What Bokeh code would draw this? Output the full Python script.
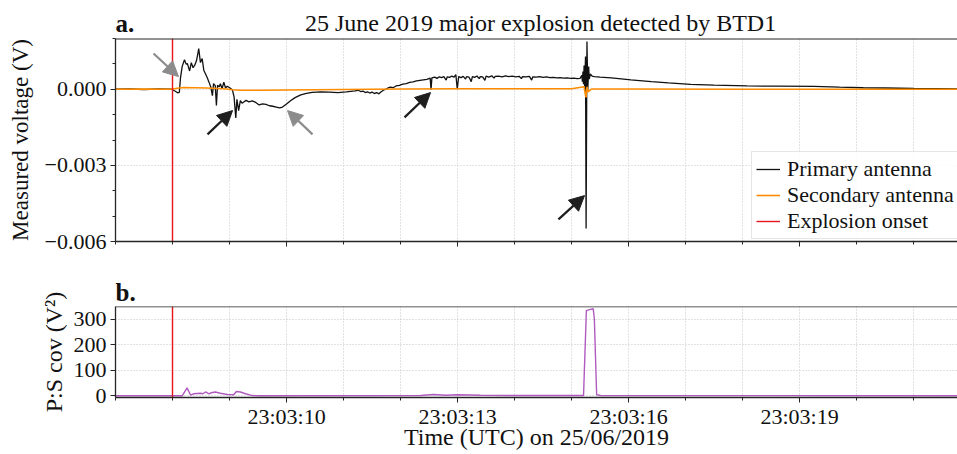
from datetime import datetime, timezone
from bokeh.plotting import figure
from bokeh.layouts import column
from bokeh.models import (Range1d, FixedTicker, DatetimeTickFormatter, CustomJSTickFormatter,
                          Span, Label, Legend, LegendItem, Arrow, NormalHead)
from bokeh.embed import file_html
from bokeh.resources import INLINE

# ---------------- data (seconds after 23:03:00 UTC, 25/06/2019) ----------------
primary_t = [7.00, 7.25, 7.50, 7.75, 7.98, 8.05, 8.09, 8.12, 8.14, 8.17, 8.21, 8.24, 8.26, 8.30, 8.33,
             8.36, 8.39, 8.42, 8.44, 8.46, 8.49, 8.52, 8.55, 8.58, 8.61, 8.64, 8.67, 8.70, 8.72, 8.75,
             8.77, 8.79, 8.82, 8.84, 8.87, 8.90, 8.93, 8.96, 8.99, 9.02, 9.05, 9.08, 9.11, 9.13, 9.16,
             9.19, 9.22, 9.25, 9.29, 9.34, 9.40, 9.46, 9.52, 9.58, 9.64, 9.70, 9.76, 9.82, 9.88, 9.93,
             10.00, 10.07, 10.15, 10.25, 10.35, 10.45, 10.60, 10.75, 10.90, 11.05, 11.20, 11.26, 11.30,
             11.34, 11.38, 11.42, 11.46, 11.50, 11.54, 11.58, 11.62, 11.66, 11.70, 11.74, 11.78, 11.82,
             11.87, 11.92, 11.98, 12.04, 12.10, 12.16, 12.22, 12.28, 12.34, 12.40, 12.46, 12.52, 12.535,
             12.55, 12.60, 12.64, 12.68, 12.72, 12.76, 12.80, 12.82, 12.86, 12.90, 12.94, 12.97, 12.995,
             13.02, 13.06, 13.10, 13.14, 13.16, 13.20, 13.24, 13.26, 13.30, 13.34, 13.38, 13.40, 13.44,
             13.48, 13.50, 13.55, 13.60, 13.64, 13.66, 13.72, 13.78, 13.84, 13.90, 13.96, 14.02, 14.08,
             14.12, 14.14, 14.20, 14.26, 14.30, 14.32, 14.38, 14.44, 14.50, 14.56, 14.62, 14.68, 14.74,
             14.80, 14.86, 14.92, 14.98, 15.04, 15.10, 15.15, 15.18, 15.19, 15.20, 15.21, 15.22, 15.23,
             15.245, 15.255, 15.27, 15.285, 15.30, 15.31, 15.33, 15.36, 15.40, 15.50, 15.70, 16.04,
             16.40, 16.70, 17.09, 17.50, 18.08, 18.60, 19.25, 19.70, 20.12, 20.50, 21.00, 21.77]
primary_v = [0.00000, 0.00001, -0.00001, 0.00001, 0.00000, -0.00008, -0.00014, -0.00012, 0.00045,
             0.00090, 0.00116, 0.00098, 0.00102, 0.00072, 0.00105, 0.00085, 0.00095, 0.00112, 0.00135,
             0.00160, 0.00105, 0.00121, 0.00074, 0.00060, 0.00045, 0.00028, 0.00010, -0.00025, 0.00022,
             0.00014, -0.00064, 0.00016, 0.00010, 0.00022, 0.00002, 0.00028, 0.00005, 0.00012, 0.00008,
             0.00003, -0.00002, -0.00030, -0.00113, -0.00040, -0.00084, -0.00045, -0.00055, -0.00050,
             -0.00044, -0.00050, -0.00046, -0.00052, -0.00062, -0.00058, -0.00060, -0.00065, -0.00067,
             -0.00070, -0.00073, -0.00070, -0.00058, -0.00045, -0.00033, -0.00022, -0.00016, -0.00012,
             -0.00010, -0.00011, -0.00013, -0.00010, -0.00006, -0.00004, -0.00009, -0.00007, -0.00013,
             -0.00010, -0.00015, -0.00011, -0.00017, -0.00013, -0.00018, -0.00010, -0.00004, 0.00000,
             0.00005, 0.00008, 0.00006, 0.00013, 0.00015, 0.00020, 0.00022, 0.00027, 0.00029, 0.00033,
             0.00035, 0.00037, 0.00039, 0.00044, -0.00002, 0.00045, 0.00048, 0.00043, 0.00049, 0.00046,
             0.00050, 0.00036, 0.00049, 0.00047, 0.00052, 0.00048, 0.00058, 0.00000, 0.00050, 0.00046,
             0.00051, 0.00040, 0.00050, 0.00048, 0.00030, 0.00050, 0.00047, 0.00052, 0.00042, 0.00050,
             0.00049, 0.00035, 0.00052, 0.00048, 0.00053, 0.00044, 0.00051, 0.00052, 0.00049, 0.00053,
             0.00050, 0.00052, 0.00049, 0.00051, 0.00042, 0.00050, 0.00049, 0.00051, 0.00036, 0.00049,
             0.00048, 0.00050, 0.00047, 0.00049, 0.00046, 0.00047, 0.00045, 0.00046, 0.00044, 0.00045,
             0.00043, 0.00044, 0.00042, 0.00043, 0.00055, 0.00030, 0.00070, 0.00020, 0.00094, 0.00011,
             0.00129, -0.00549, 0.00188, -0.00005, 0.00090, 0.00040, 0.00060, 0.00052, 0.00050, 0.00048,
             0.00045, 0.00037, 0.00030, 0.00025, 0.00019, 0.00016, 0.00013, 0.00012, 0.00011, 0.00008,
             0.00006, 0.00005, 0.00003, 0.00001]

secondary_t = [7.0, 7.5, 7.98, 8.08, 8.2, 8.4, 8.6, 8.8, 8.95, 9.05, 9.2, 9.6, 10.0, 10.5, 11.0, 11.5,
               12.0, 13.0, 14.0, 15.0, 15.22, 15.245, 15.255, 15.27, 15.29, 15.35, 16.0, 18.0, 20.0, 21.77]
secondary_v = [0.0, 0.00001, 0.0, 0.00004, 0.00007, 0.00006, 0.00005, 0.00003, 0.00001, -0.00002,
               -0.00004, -0.00004, -0.00003, -0.00002, -0.00001, 0.0, 0.00001, 0.00002, 0.00002,
               0.00002, 0.0001, -0.00025, -0.00032, 0.0001, -0.0001, 0.00001, 0.00001, 0.0, 0.0, 0.0]

cov_t = [7.0, 7.98, 8.17, 8.256, 8.316, 8.374, 8.49, 8.53, 8.58, 8.64, 8.68, 8.75, 8.84, 8.96, 9.075,
         9.12, 9.19, 9.28, 9.40, 9.54, 12.35, 12.58, 12.79, 13.0, 13.4, 14.1, 15.21, 15.26, 15.33,
         15.38, 15.40, 15.44, 15.51, 21.77]
cov_v = [0, 0, 0, 31, 3, 8, 10, 8, 15, 8, 12, 15, 10, 5, 4, 17, 15, 8, 1, 0.5, 1, 5, 2, 4, 2, 1, 1,
         333, 338, 340, 300, 4, 1, 0]

onset_t = 8.0

volt_ticks = [-0.006, -0.003, 0.0]
volt_minor = [-0.005, -0.004, -0.002, -0.001, 0.001, 0.002]
cov_ticks = [0, 100, 200, 300]
time_major = [10, 13, 16, 19]
time_minor = [7, 8, 9, 11, 12, 14, 15, 17, 18, 20, 21]

# arrows (start t, start V, end t, end V, colour)
arrows = [(7.667, 0.00141, 8.105, 0.00050, "#8c8c8c"),
          (8.614, -0.00178, 9.053, -0.00084, "#1e1e1e"),
          (10.456, -0.00178, 10.018, -0.00084, "#8c8c8c"),
          (12.07, -0.00111, 12.526, -0.00013, "#1e1e1e"),
          (14.77, -0.00513, 15.228, -0.00419, "#1e1e1e")]

# ---------------- helpers ----------------
BASE_MS = datetime(2019, 6, 25, 23, 3, 0, tzinfo=timezone.utc).timestamp() * 1000.0


def ms(sec):
    return BASE_MS + sec * 1000.0


FONT = "Liberation Serif"
TXT = "#111111"
SPINE = "#262626"
GRID = "#c4c4c4"

x_start, x_end = 7.0, 21.77
v_lo, v_hi = -0.006, 0.002
c_lo, c_hi = -6.6, 349.0

W = 957
LEFT = 115


def style(p):
    p.outline_line_color = None
    p.background_fill_color = "white"
    for ax in p.xaxis + p.yaxis:
        ax.axis_line_color = SPINE
        ax.axis_line_width = 1.3
        ax.major_tick_line_color = SPINE
        ax.minor_tick_line_color = SPINE
        ax.major_tick_out = 5
        ax.major_tick_in = 0
        ax.minor_tick_out = 3
        ax.minor_tick_in = 0
        ax.major_label_text_font = FONT
        ax.major_label_text_font_size = "22px"
        ax.major_label_text_color = TXT
        ax.axis_label_text_font = FONT
        ax.axis_label_text_font_style = "normal"
        ax.axis_label_text_font_size = "24px"
        ax.axis_label_text_color = TXT
        ax.major_label_standoff = 4
        ax.axis_label_standoff = 4
    p.xaxis.major_label_standoff = 1
    p.xaxis.axis_label_standoff = -8
    p.xaxis.ticker = FixedTicker(ticks=[ms(s) for s in time_major],
                                 minor_ticks=[ms(s) for s in time_minor])
    fmt = "%H:%M:%S"
    p.xaxis.formatter = DatetimeTickFormatter(milliseconds=fmt, seconds=fmt, minsec=fmt,
                                              minutes=fmt, hourmin=fmt, hours=fmt)
    for g in p.xgrid + p.ygrid:
        g.grid_line_color = GRID
        g.grid_line_dash = "1 2"
        g.grid_line_width = 1
    p.xgrid.minor_grid_line_color = GRID
    p.xgrid.minor_grid_line_dash = "1 2"
    p.xgrid.minor_grid_line_width = 1


x_rng = Range1d(ms(x_start), ms(x_end))

# ---------------- header strip with panel letter and title ----------------
hdr = figure(width=W, height=37, output_backend="svg", toolbar_location=None,
             x_axis_location=None, y_axis_location=None,
             min_border_left=LEFT, min_border_right=0, min_border_top=0, min_border_bottom=0,
             x_range=x_rng, y_range=Range1d(0, 37))
hdr.grid.visible = False
hdr.outline_line_color = None
hdr.add_layout(Label(x=ms(x_start), y=14, text="a.", text_font=FONT,
                     text_font_style="bold", text_font_size="25px", text_color=TXT,
                     text_baseline="alphabetic", text_align="left"))
hdr.add_layout(Label(x=ms(14.456), y=15, text="25 June 2019 major explosion detected by BTD1",
                     text_font=FONT, text_font_size="24px", text_color=TXT,
                     text_baseline="alphabetic", text_align="center"))

# ---------------- panel a ----------------
p1 = figure(width=W, height=238, x_axis_type="datetime", output_backend="svg",
            toolbar_location=None, min_border_left=LEFT, min_border_right=0,
            min_border_top=1, min_border_bottom=34,
            x_range=x_rng, y_range=Range1d(v_lo, v_hi))
style(p1)
p1.yaxis.ticker = FixedTicker(ticks=volt_ticks, minor_ticks=volt_minor)
p1.yaxis.formatter = CustomJSTickFormatter(
    code="return (tick < -1e-12 ? '\u2212' : '') + Math.abs(tick).toFixed(3);")
p1.yaxis.axis_label = "Measured voltage (V)"
p1.yaxis.axis_label_text_font_size = "23px"
p1.yaxis.axis_label_standoff = 9
p1.xaxis.formatter = CustomJSTickFormatter(code="return '';")
p1.xaxis.major_label_standoff = 0
p1.xaxis.axis_label_standoff = 0

r_p = p1.line([ms(t) for t in primary_t], primary_v, line_color="#111111", line_width=1.3)
r_s = p1.line([ms(t) for t in secondary_t], secondary_v, line_color="#ff8c00", line_width=1.6)
r_o = p1.line([ms(onset_t), ms(onset_t)], [v_lo, v_hi], line_color="#e8141c", line_width=1.4)

p1.add_layout(Span(location=v_hi, dimension="width", line_color=SPINE, line_width=2))

for (t0, y0, t1, y1, col) in arrows:
    p1.add_layout(Arrow(x_start=ms(t0), y_start=y0, x_end=ms(t1), y_end=y1,
                        line_color=col, line_width=2.2,
                        end=NormalHead(size=15, fill_color=col, line_color=col)))

legend = Legend(items=[LegendItem(label="Primary antenna", renderers=[r_p]),
                       LegendItem(label="Secondary antenna", renderers=[r_s]),
                       LegendItem(label="Explosion onset", renderers=[r_o])],
                location=(636, 2), margin=0, padding=4, spacing=0,
                glyph_width=24, glyph_height=20, label_height=20, label_standoff=7,
                label_text_font=FONT, label_text_font_size="22px", label_text_color=TXT,
                border_line_color="#cccccc", border_line_width=1,
                background_fill_color="white", background_fill_alpha=0.85)
p1.add_layout(legend)

# ---------------- panel b ----------------
p2 = figure(width=W, height=179, x_axis_type="datetime", output_backend="svg",
            toolbar_location=None, min_border_left=LEFT, min_border_right=0,
            min_border_top=30, min_border_bottom=57, title="b.",
            x_range=x_rng, y_range=Range1d(c_lo, c_hi))
style(p2)
p2.title.align = "left"
p2.title.text_font = FONT
p2.title.text_font_style = "bold"
p2.title.text_font_size = "25px"
p2.title.text_color = TXT
p2.title.standoff = 2
p2.yaxis.ticker = FixedTicker(ticks=cov_ticks, minor_ticks=[])
p2.yaxis.axis_label = "P:S cov (V\u00b2)"
p2.xaxis.axis_label = "Time (UTC) on 25/06/2019"
p2.line([ms(t) for t in cov_t], cov_v, line_color="#b05ac0", line_width=1.4)
p2.line([ms(onset_t), ms(onset_t)], [c_lo, c_hi], line_color="#e8141c", line_width=1.4)
p2.add_layout(Span(location=c_hi, dimension="width", line_color=SPINE, line_width=1.3))

layout = column(hdr, p1, p2, spacing=0)
open("out.html", "w").write(file_html(layout, INLINE))
